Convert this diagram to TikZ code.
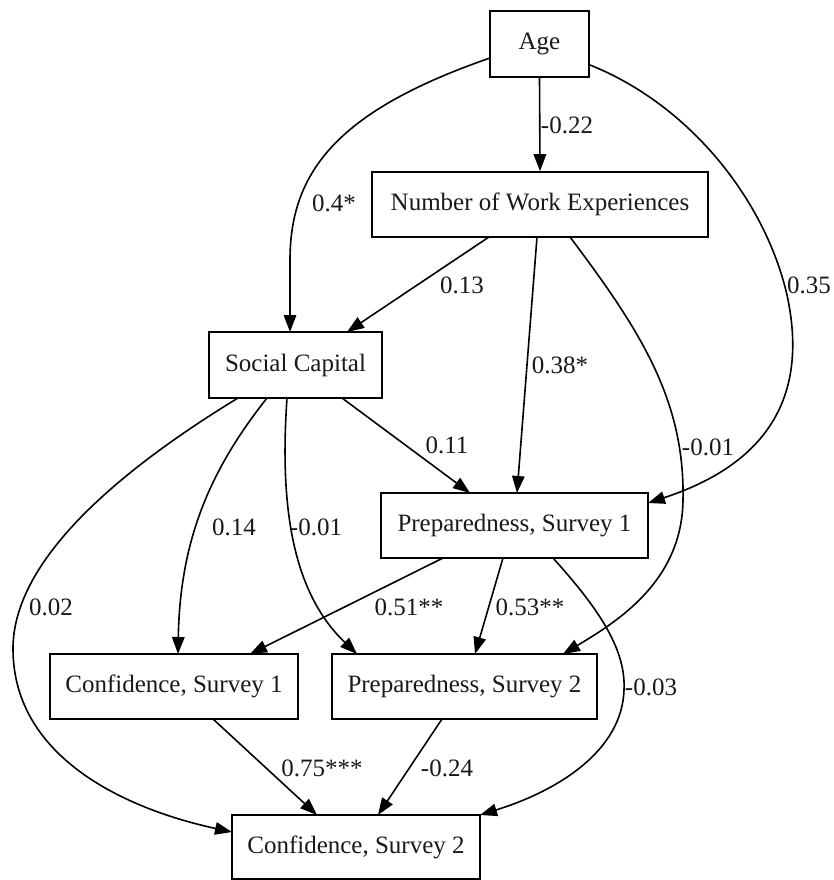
\documentclass[tikz,border=0pt]{standalone}
\usepackage{fontspec}
\setmainfont{Liberation Serif}
\usetikzlibrary{arrows.meta,calc}
\tikzset{
  var/.style={draw=black, line width=1.6pt, rectangle, inner sep=0pt, fill=white,
    font=\fontsize{25}{30}\selectfont, text=black!90},
  lbl/.style={inner sep=0pt, font=\fontsize{25}{30}\selectfont, text=black!90},
  edge/.style={draw=black, line width=1.6pt, -{Triangle[length=17pt,width=12.5pt]}}
}
\begin{document}
\begin{tikzpicture}[x=1pt,y=-1pt]
\useasboundingbox[fill=white] (0,0) rectangle (833,880);
% nodes
\node[var, minimum width=99pt, minimum height=66pt] (age) at (539.5,44) {Age};
\node[var, minimum width=336pt, minimum height=65pt] (nwe) at (540,204.5) {Number of Work Experiences};
\node[var, minimum width=173pt, minimum height=66pt] (sc) at (295.5,365) {Social Capital};
\node[var, minimum width=267pt, minimum height=65pt] (ps1) at (514.5,525.5) {Preparedness, Survey 1};
\node[var, minimum width=248pt, minimum height=65pt] (cs1) at (174,686.5) {Confidence, Survey 1};
\node[var, minimum width=265pt, minimum height=65pt] (ps2) at (464.5,686.5) {Preparedness, Survey 2};
\node[var, minimum width=248pt, minimum height=64pt] (cs2) at (356,847) {Confidence, Survey 2};
% edges
\draw[edge] (age.south) -- (nwe.north);
\draw[edge] ($(age.center)+(-49.5,14)$) .. controls (340,110) and (290,170) .. (290,260) -- ($(sc.center)+(-5.5,-33)$);
\draw[edge] ($(age.center)+(50.5,21)$) .. controls (690,105) and (765,200) .. (787,295) .. controls (805,378) and (785,458) .. ($(ps1.center)+(133.5,-22.5)$);
\draw[edge] ($(nwe.center)+(-51,32.5)$) -- ($(sc.center)+(51.5,-33)$);
\draw[edge] ($(nwe.center)+(-3,32.5)$) -- ($(ps1.center)+(2.5,-32.5)$);
\draw[edge] ($(nwe.center)+(30,32.5)$) .. controls (640,330) and (685,400) .. (683,500) .. controls (682,580) and (620,620) .. ($(ps2.center)+(98.5,-32.5)$);
\draw[edge] ($(sc.center)+(46.5,33)$) -- ($(ps1.center)+(-44.5,-32.5)$);
\draw[edge] ($(sc.center)+(-28.5,33)$) .. controls (210,470) and (180,540) .. ($(cs1.center)+(4,-32.5)$);
\draw[edge] ($(sc.center)+(-8.5,33)$) .. controls (280,500) and (290,590) .. ($(ps2.center)+(-107.5,-32.5)$);
\draw[edge] ($(sc.center)+(-57.5,33)$) .. controls (120,470) and (12,560) .. (13,650) .. controls (14,760) and (130,810) .. ($(cs2.center)+(-124,-15)$);
\draw[edge] ($(ps1.center)+(-71.5,32.5)$) -- ($(cs1.center)+(76,-32.5)$);
\draw[edge] ($(ps1.center)+(-11.5,32.5)$) -- ($(ps2.center)+(10.5,-32.5)$);
\draw[edge] ($(ps1.center)+(38.5,32.5)$) .. controls (600,610) and (626,650) .. (624,690) .. controls (622,750) and (560,790) .. ($(cs2.center)+(124,-32)$);
\draw[edge] ($(cs1.center)+(39,32.5)$) -- ($(cs2.center)+(-39,-32)$);
\draw[edge] ($(ps2.center)+(-22.5,32.5)$) -- ($(cs2.center)+(22,-32)$);
% labels
\node[lbl] (l1) at (567,125) {-0.22};
\node[lbl] (l2) at (334,203) {0.4*};
\node[lbl] (l3) at (809,285) {0.35};
\node[lbl] (l4) at (462,285) {0.13};
\node[lbl] (l5) at (560,365) {0.38*};
\node[lbl] (l6) at (708,447) {-0.01};
\node[lbl] (l7) at (447,445) {0.11};
\node[lbl] (l8) at (234,527) {0.14};
\node[lbl] (l9) at (316,527) {-0.01};
\node[lbl] (l10) at (51,607) {0.02};
\node[lbl] (l11) at (409,607) {0.51**};
\node[lbl] (l12) at (530,607) {0.53**};
\node[lbl] (l13) at (651,687) {-0.03};
\node[lbl] (l14) at (322,768) {0.75***};
\node[lbl] (l15) at (447,768) {-0.24};
\end{tikzpicture}
\end{document}
